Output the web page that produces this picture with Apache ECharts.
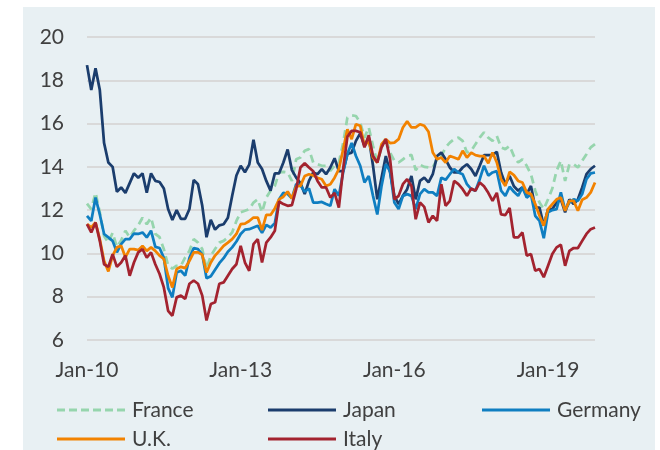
<!DOCTYPE html>
<html>
<head>
<meta charset="utf-8">
<script src="https://cdn.jsdelivr.net/npm/echarts@6/dist/echarts.min.js"></script>
<style>
html,body{margin:0;padding:0;background:#ffffff;}
#chart{width:660px;height:450px;}
</style>
</head>
<body>
<div id="chart"></div>
<script>
// Monthly categories Jan-10 .. Dec-19
const monthNames = ['Jan','Feb','Mar','Apr','May','Jun','Jul','Aug','Sep','Oct','Nov','Dec'];
const years = ['10','11','12','13','14','15','16','17','18','19'];
const categories = [];
years.forEach(y => monthNames.forEach(m => categories.push(m + '-' + y)));

const yTicks = [6, 8, 10, 12, 14, 16, 18, 20];

const france = [
  12.3, 12.05, 12.8, 11.9, 10.8, 10.5, 10.95, 10.3, 10.6, 11.05, 10.75, 11.05, 11.3, 11.65, 11.35, 11.65, 10.9, 10.75, 10.2, 9.45,
  9.3, 9.43, 9.43, 9.82, 10.12, 10.66, 10.5, 10.2, 9.28, 9.9, 10.2, 10.5, 10.58, 10.74, 10.97, 11.5, 11.9, 11.97, 12.05, 12.35,
  12.5, 11.9, 12.58, 12.9, 13.12, 13.74, 13.77, 13.74, 13.35, 14.35, 14.43, 14.74, 14.82, 14.2, 14.12, 14.05, 14.05, 13.82, 14.05, 14.2,
  15.1, 16.28, 16.38, 16.35, 16.05, 15.35, 15.82, 14.97, 14.2, 14.9, 15.35, 14.66, 14.28, 14.2, 14.35, 14.5, 14.55, 13.85, 14.1, 14.0,
  13.97, 13.97, 14.35, 14.5, 14.9, 15.12, 15.28, 15.35, 15.2, 14.66, 14.74, 15.05, 15.35, 15.6, 15.35, 15.2, 15.43, 14.9, 14.82, 14.97,
  14.5, 14.2, 14.35, 14.05, 13.66, 12.9, 12.35, 12.05, 12.5, 13.0, 13.82, 14.28, 13.35, 14.12, 14.12, 13.97, 14.28, 14.58, 14.9, 15.05
];
const japan = [
  18.7, 17.55, 18.55, 17.55, 15.1, 14.2, 14.0, 12.85, 13.05, 12.8, 13.25, 13.7, 13.5, 13.7, 12.8, 13.7, 13.35, 13.3, 13.0, 12.05,
  11.55, 12.0, 11.6, 11.6, 12.05, 13.4, 13.2, 12.2, 10.75, 11.55, 11.1, 11.3, 11.35, 11.65, 12.65, 13.6, 14.05, 13.75, 14.1, 15.25,
  14.2, 13.9, 13.35, 12.9, 13.7, 13.7, 14.2, 14.8, 13.85, 13.5, 13.25, 12.74, 13.35, 13.74, 13.66, 13.9, 13.66, 13.97, 14.4, 13.8,
  13.8, 14.6, 14.66, 15.2, 15.55, 14.97, 15.35, 14.05, 12.5, 13.5, 14.5, 13.74, 12.66, 12.28, 12.66, 12.97, 13.58, 12.5, 13.35, 13.5,
  13.28, 13.66, 14.5, 14.66, 14.35, 13.97, 13.74, 13.74, 13.97, 14.12, 13.9, 13.58, 14.05, 14.54, 14.54, 14.54, 14.7, 13.74, 13.2, 13.58,
  13.1, 12.9, 13.05, 12.74, 13.12, 12.12, 12.12, 11.28, 12.05, 12.05, 12.35, 12.5, 11.9, 12.5, 12.28, 12.5, 13.05, 13.66, 13.9, 14.05
];
const germany = [
  11.74, 11.5, 12.58, 11.8, 10.9, 10.74, 10.58, 10.05, 10.43, 10.66, 10.66, 10.92, 10.9, 10.97, 10.74, 11.05, 10.3, 10.25, 9.8, 8.4,
  7.97, 9.12, 9.2, 8.97, 9.8, 10.25, 10.2, 9.95, 8.85, 8.95, 9.25, 9.55, 9.78, 10.08, 10.28, 10.55, 10.9, 11.1, 11.12, 11.2,
  11.28, 10.95, 11.32, 11.2, 11.4, 12.5, 12.8, 12.75, 12.55, 13.2, 13.15, 12.85, 13.0, 12.35, 12.35, 12.38, 12.28, 12.2, 12.97, 12.66,
  13.74, 14.6, 15.1, 14.5, 14.05, 13.28, 13.58, 12.66, 11.8, 13.12, 14.12, 13.8, 12.35, 12.05, 12.66, 12.74, 12.66, 12.05, 12.74, 12.97,
  12.82, 12.82, 12.66, 13.5, 13.4, 13.66, 13.9, 13.74, 13.66, 13.2, 12.97, 12.9, 13.43, 14.05, 13.6, 13.74, 13.8, 12.9, 12.66, 13.08,
  12.85, 12.66, 13.05, 12.58, 12.74, 11.74, 11.5, 10.7, 11.9, 12.0, 12.05, 12.82, 12.0, 12.35, 12.5, 12.43, 12.74, 13.43, 13.7, 13.74
];
const uk = [
  11.35, 11.2, 11.43, 10.66, 9.66, 9.17, 9.9, 10.28, 10.35, 9.82, 10.2, 10.2, 10.15, 10.35, 10.12, 10.28, 10.12, 9.9, 9.74, 8.97,
  8.43, 9.28, 9.38, 9.32, 9.66, 10.05, 10.05, 9.94, 9.12, 9.58, 9.9, 10.12, 10.35, 10.5, 10.66, 10.9, 11.35, 11.38, 11.5, 11.66,
  11.66, 11.08, 11.78, 11.78, 12.08, 12.5, 12.62, 12.86, 12.54, 13.1, 13.12, 13.58, 13.66, 13.6, 13.5, 13.43, 13.12, 13.2, 13.5, 13.9,
  14.8, 15.74, 15.28, 15.97, 15.9, 14.97, 15.2, 14.43, 14.2, 15.05, 15.28, 15.1, 15.12, 15.28, 15.82, 16.1, 15.82, 15.82, 15.97, 15.9,
  15.62, 14.66, 14.35, 14.43, 14.2, 14.5, 14.43, 14.35, 14.74, 14.43, 14.66, 14.54, 14.5, 14.5, 14.17, 14.66, 14.2, 13.43, 13.12, 13.77,
  13.62, 13.35, 13.28, 12.82, 12.74, 12.28, 11.74, 11.28, 12.05, 12.28, 12.5, 12.58, 11.97, 12.43, 12.43, 11.97, 12.48, 12.58, 12.82, 13.28
];
const italy = [
  11.35, 10.97, 11.43, 10.58, 9.5, 9.38, 9.97, 9.38, 9.58, 9.9, 8.97, 9.58, 10.05, 10.2, 9.8, 10.05, 9.5, 9.05, 8.43, 7.35,
  7.12, 7.97, 8.05, 7.9, 8.6, 8.75, 8.6, 8.05, 6.9, 7.66, 7.74, 8.6, 8.66, 8.97, 9.28, 9.5, 10.35, 9.58, 9.2, 10.43,
  10.66, 9.58, 10.5, 10.74, 11.05, 12.4, 12.28, 12.2, 12.23, 12.97, 13.97, 14.17, 13.97, 13.8, 13.35, 13.05, 13.05, 12.58, 12.8, 12.12,
  13.9, 15.4, 15.66, 15.66, 15.6, 14.9, 15.46, 14.5, 14.2, 14.9, 15.28, 14.35, 12.5, 12.66, 13.2, 13.43, 13.12, 11.58, 12.35, 12.15,
  11.43, 11.74, 11.5, 13.2, 12.2, 12.43, 13.35, 13.2, 12.97, 12.66, 13.0, 12.9, 13.28, 13.1, 12.8, 12.43, 12.8, 11.8, 11.77, 12.1,
  10.74, 10.74, 10.97, 9.9, 9.97, 9.2, 9.28, 8.9, 9.43, 9.97, 10.28, 10.4, 9.43, 10.12, 10.25, 10.25, 10.58, 10.9, 11.12, 11.2
];

const FONT = 'Lato';
const TXT = '#404040';
const LW = 2.75;

const SOLID_ICON = 'path://M0,0h68v3h-68z';
const DASH_ICON = 'path://M0,0h8v3h-8zM12,0h8v3h-8zM24,0h8v3h-8zM36,0h8v3h-8zM48,0h8v3h-8zM60,0h8v3h-8z';

function lineSeries(name, data, color, dashed) {
  return {
    name: name, type: 'line', data: data, symbol: 'none', showSymbol: false, smooth: false,
    lineStyle: { color: color, width: LW, type: dashed ? [8, 5] : 'solid' },
    itemStyle: { color: color },
    emphasis: { disabled: true }
  };
}

function legendItem(name, left, top, icon) {
  return {
    show: true, orient: 'horizontal', left: left, top: top,
    itemWidth: 68, itemHeight: 3, symbolKeepAspect: false,
    icon: icon, data: [{ name: name, icon: icon }],
    textStyle: { fontFamily: FONT, fontSize: 21, color: TXT, lineHeight: 21, padding: [0, 0, 0, 2] },
    selectedMode: false
  };
}

const ROW1 = 394.5, ROW2 = 423.5;

const chart = echarts.init(document.getElementById('chart'), null, { renderer: 'canvas' });
chart.setOption({
  animation: false,
  backgroundColor: 'transparent',
  graphic: [{
    type: 'rect', left: 23, top: 7, z: -10, silent: true,
    shape: { width: 632, height: 443 },
    style: { fill: '#e8f0f3' }
  }],
  grid: { left: 87, right: 65, top: 37, bottom: 110 },
  legend: [
    legendItem('France', 52, ROW1, DASH_ICON),
    legendItem('U.K.', 52, ROW2, SOLID_ICON),
    legendItem('Japan', 263, ROW1, SOLID_ICON),
    legendItem('Italy', 263, ROW2, SOLID_ICON),
    legendItem('Germany', 477, ROW1, SOLID_ICON)
  ],
  xAxis: {
    type: 'category', data: categories, boundaryGap: false,
    axisLine: { show: false }, axisTick: { show: false },
    axisLabel: { interval: 35, margin: 20, fontFamily: FONT, fontSize: 21, color: TXT },
    splitLine: { show: false }
  },
  yAxis: {
    type: 'value', min: yTicks[0], max: yTicks[yTicks.length - 1], interval: 2,
    axisLine: { show: false }, axisTick: { show: false },
    axisLabel: { margin: 23, fontFamily: FONT, fontSize: 21, color: TXT },
    splitLine: { lineStyle: { color: '#d9d9d9', width: 2 } }
  },
  series: [
    lineSeries('France', france, '#96d5ad', true),
    lineSeries('Japan', japan, '#1b3d6d', false),
    lineSeries('Germany', germany, '#0f7ec1', false),
    lineSeries('U.K.', uk, '#f28200', false),
    lineSeries('Italy', italy, '#a3232f', false)
  ]
});
</script>
</body>
</html>
